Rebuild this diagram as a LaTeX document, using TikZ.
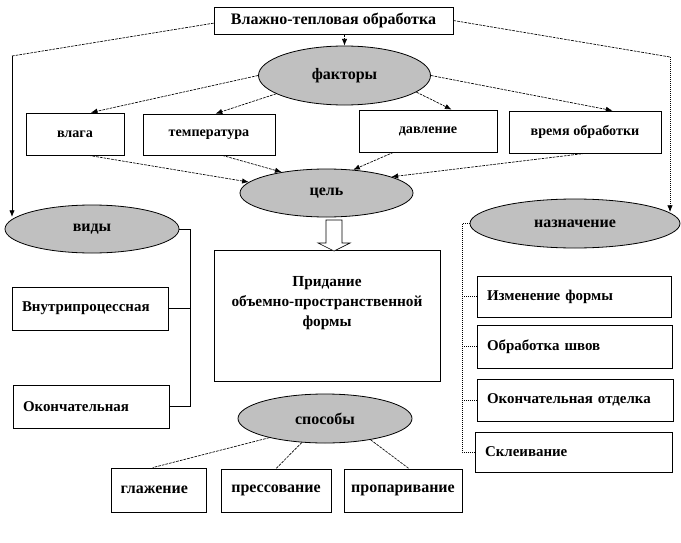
\documentclass[tikz,border=0pt]{standalone}
\usepackage{fontspec}
\setmainfont{Liberation Serif}
\newfontfamily\tnr{Liberation Serif}
\usetikzlibrary{shapes.geometric,arrows.meta,calc}
\definecolor{ellgray}{HTML}{C0C0C0}
\begin{document}
\begin{tikzpicture}[x=0.75pt,y=-0.75pt,
  every node/.style={font=\tnr\bfseries\fontsize{12}{14}\selectfont, inner sep=0pt},
  fsmall/.style={font=\tnr\bfseries\fontsize{10.6}{13}\selectfont},
  fmid/.style={font=\tnr\bfseries\fontsize{11.2}{13}\selectfont},
  bx/.style n args={2}{draw, line width=0.6pt, minimum width=#1*0.75pt, minimum height=#2*0.75pt},
  lbx/.style n args={2}{draw, line width=0.6pt, minimum width=#1*0.75pt, minimum height=#2*0.75pt,
      text width=(#1-20)*0.75pt, inner xsep=7.5pt, align=left, fmid},
  ell/.style n args={2}{ellipse, draw, line width=0.6pt, fill=ellgray, minimum width=#1*0.75pt, minimum height=#2*0.75pt},
  con/.style={line width=0.5pt, dash pattern=on 2pt off 0.8pt},
  arr/.style={con, -{Latex[length=5pt,width=4pt]}},
  dotl/.style={line width=0.5pt, densely dotted},
  soll/.style={line width=0.6pt}
]
\useasboundingbox (0,0) rectangle (681,542);

% nodes
\node[bx={239}{27}] (title) at (333.5,20.5) {Влажно-тепловая обработка};
\node[ell={172}{59}] (fact) at (344.5,75.5) {факторы};
\node[bx={98}{42}, fsmall] (vlaga) at (75,134) {влага};
\node[bx={132}{41}, fsmall] (temp) at (209,134.5) {температура};
\node[bx={138}{42}, fsmall] (davl) at (428,131) {давление};
\node[bx={152}{42}, fsmall] (vrem) at (585,132) {время обработки};
\node[ell={173}{48}] (cel) at (326.5,193) {цель};
\node[ell={174}{48}] (vidy) at (92,229) {виды};
\node[ell={210}{49}] (nazn) at (575,223.5) {назначение};
\node[bx={226}{131}] (goal) at (327,315.5) {};
\node[align=center, font=\tnr\bfseries\fontsize{11.5}{15}\selectfont] (goaltxt) at (327,303)
  {Придание\\объемно-пространственной\\формы};
\node[lbx={156}{43}] (vnutr) at (90,308.5) {Внутрипроцессная};
\node[lbx={156}{43}] (okonch) at (91,406.5) {Окончательная};
\node[lbx={194}{41}] (izm) at (574,296.5) {Изменение формы};
\node[lbx={195}{43}] (obr) at (574.5,346.5) {Обработка швов};
\node[lbx={196}{42}] (otd) at (575,400) {Окончательная отделка};
\node[lbx={197}{40}] (skl) at (573.5,452) {Склеивание};
\node[ell={174}{49}] (sp) at (325,418.5) {способы};
\node[bx={95}{44}, text width=80*0.75pt, inner xsep=0pt, align=left] (glazh) at (158.5,490) {\hspace*{1.5pt}глажение};
\node[bx={110}{43}] (press) at (276,490.5) {прессование};
\node[bx={118}{43}] (propar) at (403,490.5) {пропаривание};

% helper coordinates
\coordinate (L1) at (12,56);
\coordinate (L2) at (12,217);
\coordinate (R1) at (670,57);
\coordinate (R2) at (670,212);
\coordinate (lb) at (190,0);
\coordinate (rb) at (462,0);

% title connectors
\draw[arr] (title.south -| fact.north) -- (fact.north);
\draw[con] ([yshift=-2pt]title.west) -- (L1);
\draw[soll, -{Latex[length=5pt,width=4pt]}] (L1) -- (L2);
\draw[con] (title.east) -- (R1);
\draw[dotl, -{Latex[length=5pt,width=4pt]}] (R1) -- (R2);

% factors
\draw[arr] (fact.west) -- ($(vlaga.north west)!0.66!(vlaga.north east)$);
\draw[arr] (fact.195) -- ($(temp.north west)!0.55!(temp.north east)$);
\draw[arr] (fact.-13) -- ($(davl.north west)!0.67!(davl.north east)$);
\draw[arr] (fact.east) -- ($(vrem.north west)!0.68!(vrem.north east)$);

% to goal
\draw[arr] ($(vlaga.south west)!0.64!(vlaga.south east)$) -- (cel.172);
\draw[arr] ($(temp.south west)!0.6!(temp.south east)$) -- (cel.155);
\draw[arr] ($(davl.south west)!0.25!(davl.south east)$) -- (cel.41);
\draw[arr] (vrem.south) -- (cel.14);

% hollow arrow
\draw[line width=0.5pt, fill=white] (326,220) -- (342,220) -- (342,243) -- (350,243) -- (334,251)
  -- (318,243) -- (326,243) -- cycle;

% left bracket
\draw[soll] (vidy.east) -| (okonch.east -| lb) -- (okonch.east);
\draw[soll] (vnutr.east) -- (vnutr.east -| lb);

% right bracket
\draw[dotl] (nazn.west) -| (skl.west -| rb) -- (skl.west);
\draw[dotl] (izm.west -| rb) -- (izm.west);
\draw[dotl] (obr.west -| rb) -- (obr.west);
\draw[dotl] (otd.west -| rb) -- (otd.west);

% methods
\draw[con] (sp.199) -- ($(glazh.north west)!0.44!(glazh.north east)$);
\draw[con] (sp.226) -- (press.north);
\draw[con] (sp.-25) -- ($(propar.north west)!0.55!(propar.north east)$);
\end{tikzpicture}
\end{document}
